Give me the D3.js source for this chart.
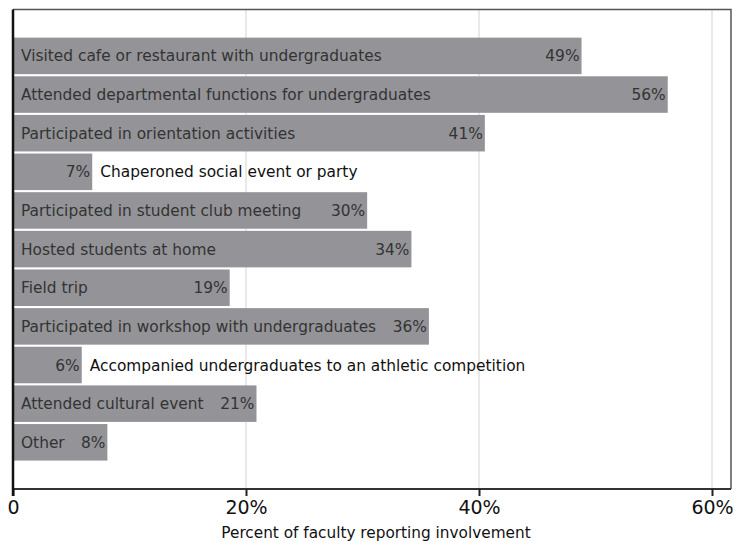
<!DOCTYPE html>
<html>
<head>
<meta charset="utf-8">
<script src="https://cdn.jsdelivr.net/npm/d3@7"></script>
<style>
  body { margin: 0; background: #fff; }
  text { font-family: "DejaVu Sans", Verdana, sans-serif; }
</style>
</head>
<body>
<script>
const width = 743;
const height = 541;

const activities = [
  "Visited cafe or restaurant with undergraduates",
  "Attended departmental functions for undergraduates",
  "Participated in orientation activities",
  "Chaperoned social event or party",
  "Participated in student club meeting",
  "Hosted students at home",
  "Field trip",
  "Participated in workshop with undergraduates",
  "Accompanied undergraduates to an athletic competition",
  "Attended cultural event",
  "Other"
];
const percents = [48.8, 56.2, 40.5, 6.8, 30.4, 34.2, 18.6, 35.7, 5.9, 20.9, 8.1];
const ticks = [0, 20, 40, 60];
const tickLabels = ["0", "20%", "40%", "60%"];
const axisTitle = "Percent of faculty reporting involvement";

const margin = { top: 9.5, right: 12, bottom: 52, left: 13 };
const plotRight = width - margin.right;
const plotBottom = height - margin.bottom;

const svg = d3.select('body')
  .append('svg')
  .attr('width', width)
  .attr('height', height);

const xScale = d3.scaleLinear()
  .domain([0, 60])
  .range([margin.left, 712]);

const yScale = d3.scaleBand()
  .domain(activities)
  .range([36.6, 461.6])
  .paddingInner(0.055)
  .paddingOuter(0.027);

// gridlines
svg.append('g')
  .selectAll('line')
  .data(ticks.slice(1))
  .enter()
  .append('line')
  .attr('x1', d => xScale(d))
  .attr('x2', d => xScale(d))
  .attr('y1', margin.top)
  .attr('y2', plotBottom)
  .style('stroke', '#e2e2e2')
  .style('stroke-width', 1.5);

// bars
const rows = svg.append('g')
  .selectAll('g')
  .data(activities.map((a, i) => ({ name: a, value: percents[i] })))
  .enter()
  .append('g');

rows.append('rect')
  .attr('x', xScale(0))
  .attr('y', d => yScale(d.name))
  .attr('width', d => xScale(d.value) - xScale(0))
  .attr('height', yScale.bandwidth())
  .style('fill', '#939398');

rows.each(function (d) {
  const g = d3.select(this);
  const yMid = yScale(d.name) + yScale.bandwidth() / 2 + 5.5;
  const barEnd = xScale(d.value);
  const val = g.append('text')
    .attr('x', barEnd - 2)
    .attr('y', yMid)
    .attr('text-anchor', 'end')
    .style('font-size', '15.4px')
    .style('fill', '#333')
    .text(Math.round(d.value) + '%');
  const lab = g.append('text')
    .attr('y', yMid)
    .style('font-size', '15.4px')
    .text(d.name);
  const need = lab.node().getComputedTextLength() + val.node().getComputedTextLength() + 18;
  if (need < barEnd - xScale(0)) {
    lab.attr('x', xScale(0) + 8).style('fill', '#333');
  } else {
    lab.attr('x', barEnd + 8).style('fill', '#111');
  }
});

// frame
svg.append('path')
  .attr('d', `M${margin.left},${margin.top}H${plotRight}V${plotBottom}`)
  .style('fill', 'none')
  .style('stroke', '#555')
  .style('stroke-width', 1.5);

// x axis
const xAxis = d3.axisBottom(xScale)
  .tickValues(ticks)
  .tickFormat((d, i) => tickLabels[i])
  .tickSize(7)
  .tickSizeOuter(0);

const axG = svg.append('g')
  .attr('transform', `translate(0, ${plotBottom})`)
  .call(xAxis);
axG.select('.domain').attr('d', `M${margin.left},0H${plotRight}`)
  .style('stroke', '#333').style('stroke-width', 2);
axG.selectAll('.tick line').style('stroke', '#222').style('stroke-width', 2);
axG.selectAll('.tick text')
  .attr('y', 12)
  .style('font-family', '"DejaVu Sans", Verdana, sans-serif')
  .style('font-size', '19px')
  .style('fill', '#111');

// y axis line
svg.append('line')
  .attr('x1', margin.left)
  .attr('x2', margin.left)
  .attr('y1', margin.top)
  .attr('y2', plotBottom + 7)
  .style('stroke', '#111')
  .style('stroke-width', 2.5);

svg.append('text')
  .attr('x', 376)
  .attr('y', 538)
  .attr('text-anchor', 'middle')
  .style('font-size', '15.3px')
  .style('fill', '#111')
  .text(axisTitle);
</script>
</body>
</html>
